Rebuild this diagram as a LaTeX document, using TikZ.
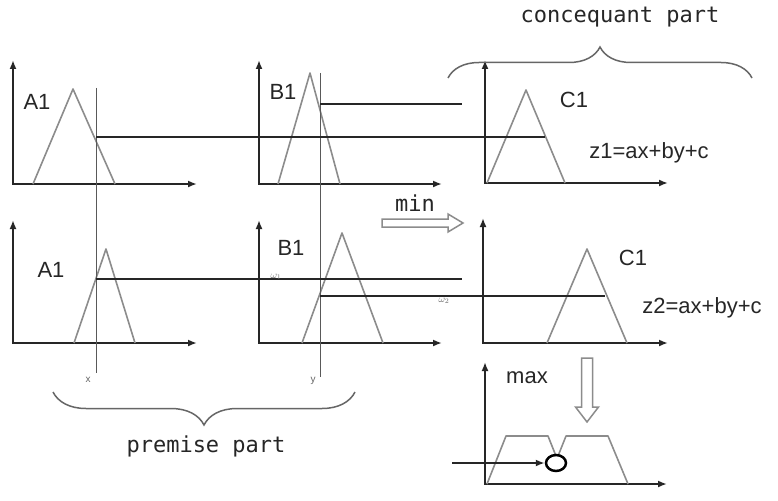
\documentclass[tikz,border=0pt]{standalone}
\usepackage{fontspec}
\setmainfont{Liberation Sans}
\newfontfamily\monofont{DejaVu Sans Mono}
\usetikzlibrary{arrows.meta,decorations.pathreplacing,shapes.geometric}
\begin{document}
\begin{tikzpicture}[x=1pt,y=-1pt,
  axis/.style={line width=2.2pt, draw=black!85, {Latex[length=9pt,width=7pt]}-{Latex[length=9pt,width=7pt]}},
  memb/.style={line width=1.6pt, draw=black!45, line join=round},
  level/.style={line width=2.2pt, draw=black!85},
  probe/.style={line width=1pt, draw=black!65},
  lab/.style={font=\fontsize{22}{22}\selectfont, text=black!85, inner sep=0pt},
  mono/.style={font=\monofont\fontsize{22}{22}\selectfont, text=black!85, inner sep=0pt},
  tinylab/.style={font=\fontsize{10}{10}\selectfont, text=black!60, inner sep=0pt},
  brc/.style={decorate, line width=1.5pt, draw=black!60},
  hollow/.style={line width=1.5pt, draw=black!45, fill=white, line join=miter}]
\useasboundingbox (0,0) rectangle (778,500);
\fill[white] (0,0) rectangle (778,500);

% ---- axes ----
\foreach \n/\ox/\oy/\ty/\rx in {a/13/184/60/197, b/259/184/60/442, c/485/183/60/668,
                                 d/13/343/220/197, e/259/343/220/442, f/483/343/218/668,
                                 g/485/484/362/667}{
  \coordinate (o\n) at (\ox,\oy);
  \coordinate (t\n) at (\ox,\ty);
  \coordinate (r\n) at (\rx,\oy);
  \draw[axis] (t\n) -- (o\n) -- (r\n);
}

% ---- membership functions ----
\coordinate (a1) at (33,184);  \coordinate (a2) at (73,89);   \coordinate (a3) at (115,184);
\coordinate (b1) at (278,184); \coordinate (b2) at (310,73);  \coordinate (b3) at (340,184);
\coordinate (c1) at (487,183); \coordinate (c2) at (526,90);  \coordinate (c3) at (565,183);
\coordinate (d1) at (74,343);  \coordinate (d2) at (106,249); \coordinate (d3) at (135,343);
\coordinate (e1) at (302,343); \coordinate (e2) at (342,233); \coordinate (e3) at (383,343);
\coordinate (f1) at (547,343); \coordinate (f2) at (587,249); \coordinate (f3) at (627,343);
\draw[memb] (a1) -- (a2) -- (a3);
\draw[memb] (b1) -- (b2) -- (b3);
\draw[memb] (c1) -- (c2) -- (c3);
\draw[memb] (d1) -- (d2) -- (d3);
\draw[memb] (e1) -- (e2) -- (e3);
\draw[memb] (f1) -- (f2) -- (f3);
% aggregated output
\coordinate (g1) at (487,484); \coordinate (g2) at (506,436); \coordinate (g3) at (548,436); \coordinate (g4) at (556,456);
\coordinate (h1) at (558,456); \coordinate (h2) at (566,436); \coordinate (h3) at (608,436); \coordinate (h4) at (628,484);
\draw[memb] (g1) -- (g2) -- (g3) -- (g4);
\draw[memb] (h1) -- (h2) -- (h3) -- (h4);

% ---- input probes ----
\coordinate (xt) at (96,88);  \coordinate (xb) at (96,373);
\coordinate (yt) at (320,73); \coordinate (yb) at (320,377);
\draw[probe] (xt) -- (xb);
\draw[probe] (yt) -- (yb);
\node[tinylab] (xl) at (88,380) {x};
\node[tinylab] (yl) at (313,381) {y};

% ---- firing levels ----
\coordinate (l1s) at (96,137);  \coordinate (l1e) at (545,137);
\coordinate (l2s) at (320,104); \coordinate (l2e) at (462,104);
\coordinate (l3s) at (96,279);  \coordinate (l3e) at (462,279);
\coordinate (l4s) at (320,296); \coordinate (l4e) at (605,296);
\draw[level] (l1s) -- (l1e);
\draw[level] (l2s) -- (l2e);
\draw[level] (l3s) -- (l3e);
\draw[level] (l4s) -- (l4e);
\node[tinylab] (w1) at (276,277) {$\omega_1$};
\node[tinylab] (w2) at (444,301) {$\omega_2$};

% ---- labels ----
\node[lab] (A1t) at (37,102) {A1};
\node[lab] (B1t) at (283,92) {B1};
\node[lab] (C1t) at (574,100) {C1};
\node[lab] (z1) at (649,153) {z1=ax+by+c};
\node[lab] (A1b) at (51,270) {A1};
\node[lab] (B1b) at (291,248) {B1};
\node[lab] (C1b) at (633,258) {C1};
\node[lab] (z2) at (702,308) {z2=ax+by+c};
\node[lab] (mx) at (527,378) {max};
\node[mono] (mn) at (415,203) {min};
\node[mono] (cp) at (620,17) {concequant part};
\node[mono] (pp) at (206,446) {premise part};

% ---- braces ----
\coordinate (bl1) at (448,78); \coordinate (br1) at (752,78);
\draw[brc, decoration={brace, amplitude=31pt}] (bl1) -- (br1);
\coordinate (bl2) at (355,392); \coordinate (br2) at (53,392);
\draw[brc, decoration={brace, amplitude=33pt}] (bl2) -- (br2);

% ---- hollow arrows ----
\draw[hollow] (382,219) -- (448,219) -- (448,214) -- (463,223) -- (448,232) -- (448,227) -- (382,227) -- cycle;
\draw[hollow] (581.5,358) -- (581.5,407) -- (575.5,407) -- (587,422) -- (598.5,407) -- (592.5,407) -- (592.5,358) -- cycle;

% ---- output point ----
\node[draw=black, ellipse, line width=2.5pt, minimum width=20pt, minimum height=16pt, inner sep=0pt] (pt) at (556,463) {};
\coordinate (ps) at (452,463);
\draw[line width=2pt, draw=black!85, -{Latex[length=9pt,width=7pt]}] (ps) -- (pt.west);
\end{tikzpicture}
\end{document}
